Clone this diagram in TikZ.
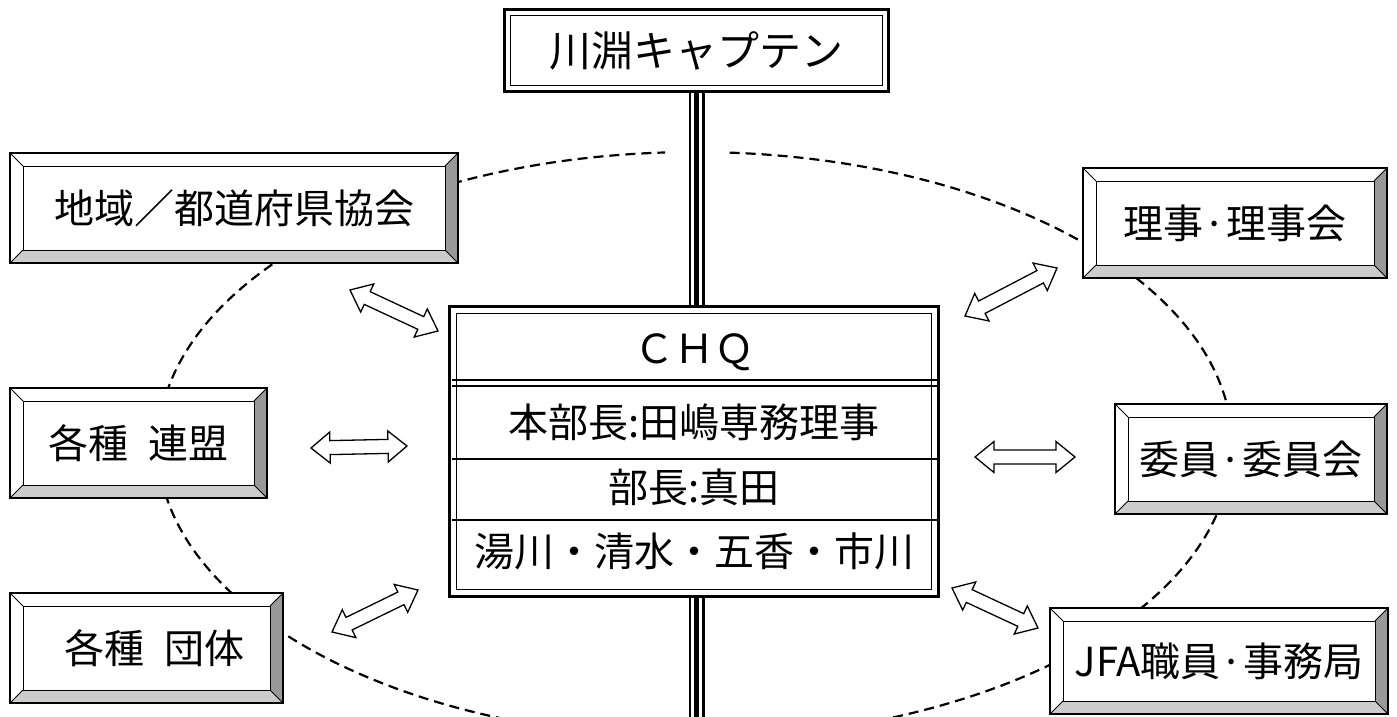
\documentclass[tikz,border=0pt]{standalone}
\usepackage{fontspec}
\newfontfamily\jp{Noto Sans CJK JP}
\usetikzlibrary{calc,backgrounds}
\definecolor{bevdark}{HTML}{999999}
\definecolor{bevlight}{HTML}{CCCCCC}
\tikzset{
  boxfont/.style={font={\jp\fontsize{40pt}{48pt}\selectfont}},
  bevelbox/.style={draw=black, line width=1.2pt, fill=white, inner sep=0pt, boxfont,
    path picture={
      \path (path picture bounding box.south west) coordinate (bsw)
            (path picture bounding box.north east) coordinate (bne)
            (path picture bounding box.north west) coordinate (bnw)
            (path picture bounding box.south east) coordinate (bse);
      \path ([shift={(13pt,13pt)}]bsw) coordinate (isw)
            ([shift={(-13pt,-13pt)}]bne) coordinate (ine)
            ([shift={(13pt,-13pt)}]bnw) coordinate (inw)
            ([shift={(-13pt,13pt)}]bse) coordinate (ise);
      \fill[bevdark] (bne) -- (bse) -- (ise) -- (ine) -- cycle;
      \fill[bevlight] (bsw) -- (bse) -- (ise) -- (isw) -- cycle;
      \draw[line width=0.9pt] (isw) rectangle (ine);
      \draw[line width=0.9pt] (bsw) -- (isw) (bse) -- (ise) (bne) -- (ine) (bnw) -- (inw);
    }},
  dblframe/.style={draw=black, line width=3pt, fill=white, inner sep=0pt,
    path picture={\draw[line width=1.6pt]
      ([shift={(#1,#1)}]path picture bounding box.south west) rectangle
      ([shift={(-#1,-#1)}]path picture bounding box.north east);}},
  triple/.style={draw=black, line width=16pt,
    postaction={draw=white, line width=11pt},
    postaction={draw=black, line width=5pt}},
  orbit/.style={draw=black, line width=2.2pt, dash pattern=on 10pt off 6pt},
  harrow/.style={draw=black, line width=1.3pt, fill=white, line join=miter},
  rowtext/.style={boxfont, inner sep=0pt},
  divider/.style={draw=black, line width=1.2pt}
}
% hollow double arrow between two named coordinates
\newcommand\hollowarr[3]{%
  \coordinate (#1h1) at ($(#2)!19pt!(#3)$);
  \coordinate (#1h2) at ($(#3)!19pt!(#2)$);
  \draw[harrow] (#2) -- ($(#1h1)!15.5pt!90:(#3)$) -- ($(#1h1)!7pt!90:(#3)$)
    -- ($(#1h2)!7pt!-90:(#2)$) -- ($(#1h2)!15.5pt!-90:(#2)$) -- (#3)
    -- ($(#1h2)!15.5pt!90:(#2)$) -- ($(#1h2)!7pt!90:(#2)$)
    -- ($(#1h1)!7pt!-90:(#3)$) -- ($(#1h1)!15.5pt!-90:(#3)$) -- cycle;}
\begin{document}
\begin{tikzpicture}[x=1pt,y=-1pt]
\useasboundingbox (0,0) rectangle (1397,717);

% nodes
\node[dblframe=6pt, minimum width=384pt, minimum height=82pt,
      font={\jp\fontsize{42pt}{50pt}\selectfont}] (captain) at (696.5,50.5) {川淵キャプテン};
\node[dblframe=7pt, minimum width=489pt, minimum height=290pt] (chq) at (694,451.5) {};

\node[bevelbox, minimum width=448pt, minimum height=110pt] (chiiki) at (234,208) {地域／都道府県協会};
\node[bevelbox, minimum width=304pt, minimum height=110pt] (riji) at (1235,223) {理事·理事会};
\node[bevelbox, minimum width=257pt, minimum height=110pt] (renmei) at (138.5,443) {各種\hspace{0.5em}連盟};
\node[bevelbox, minimum width=272pt, minimum height=110pt] (iin) at (1251,459) {委員·委員会};
\node[bevelbox, minimum width=273pt, minimum height=110pt] (dantai) at (146.5,648) {\hspace*{16pt}各種\hspace{0.5em}団体};
\node[bevelbox, minimum width=338pt, minimum height=106pt] (jfa) at (1219,661) {JFA職員·事務局};

% CHQ contents
\draw[line width=2pt] ([xshift=4pt]chq.west |- 0,380) -- ([xshift=-3pt]chq.east |- 0,380);
\draw[line width=2pt] ([xshift=4pt]chq.west |- 0,386) -- ([xshift=-3pt]chq.east |- 0,386);
\draw[divider] ([xshift=4pt]chq.west |- 0,459) -- ([xshift=-3pt]chq.east |- 0,459);
\draw[divider] ([xshift=4pt]chq.west |- 0,520) -- ([xshift=-3pt]chq.east |- 0,520);
\node[rowtext] (chqt) at (694,352) {ＣＨＱ};
\node[rowtext] (row1) at (694,422) {本部長:田嶋専務理事};
\node[rowtext] (row2) at (694,487) {部長:真田};
\node[rowtext] (row3) at (694,551) {湯川・清水・五香・市川};

% background: orbit and trunk lines
\coordinate (bot) at (696.5,722);
\coordinate (oc) at (695,445);
\begin{scope}[on background layer]
  \draw[orbit] (oc) ++(273.7:537 and 293)
     arc[start angle=273.7, end angle=626.8, x radius=537, y radius=293];
  \path[triple] (captain.south) -- (captain.south |- chq.north);
  \path[triple] (captain.south |- chq.south) -- (bot);
\end{scope}

% hollow double arrows
\coordinate (a1s) at (350,290);  \coordinate (a1e) at (438,331);
\coordinate (a2s) at (311,448);  \coordinate (a2e) at (407,446);
\coordinate (a3s) at (332,632);  \coordinate (a3e) at (418,590);
\coordinate (a4s) at (965,316);  \coordinate (a4e) at (1057,268);
\coordinate (a5s) at (975,457);  \coordinate (a5e) at (1075,457);
\coordinate (a6s) at (952,588);  \coordinate (a6e) at (1038,628);
\hollowarr{arr1}{a1s}{a1e}
\hollowarr{arr2}{a2s}{a2e}
\hollowarr{arr3}{a3s}{a3e}
\hollowarr{arr4}{a4s}{a4e}
\hollowarr{arr5}{a5s}{a5e}
\hollowarr{arr6}{a6s}{a6e}
\end{tikzpicture}
\end{document}
